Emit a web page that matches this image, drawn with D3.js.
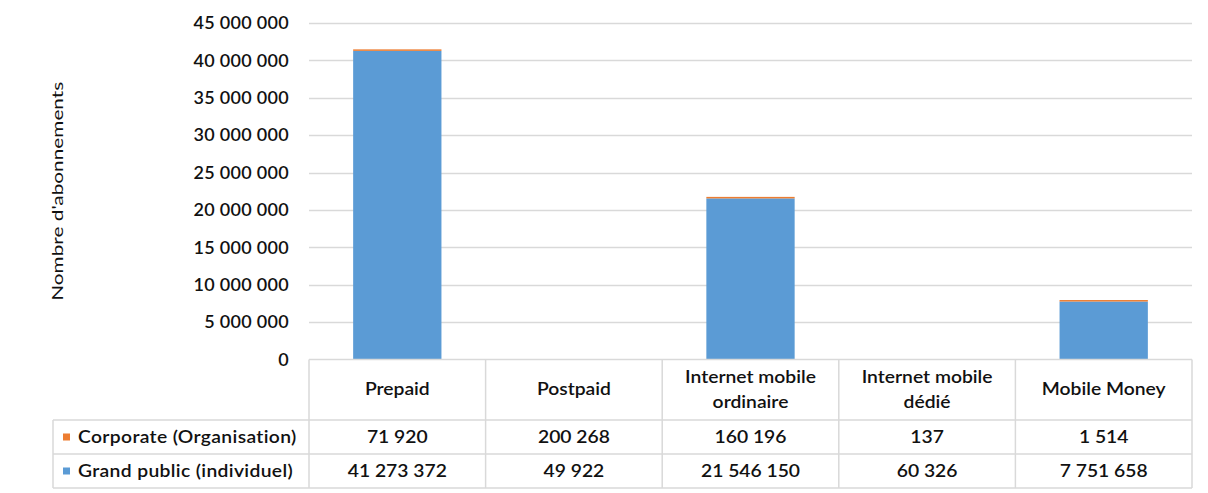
<!DOCTYPE html>
<html lang="fr">
<head>
<meta charset="UTF-8">
<title>Nombre d'abonnements</title>
<script src="https://d3js.org/d3.v7.min.js"></script>
<style>
  body { margin: 0; background: #fff; }
  svg text { font-family: Lato, "Liberation Sans", Arial, sans-serif; fill: #111; font-weight: 600; }
</style>
</head>
<body>
<div id="chart"></div>
<script>
// data
const categories = ["Prepaid", "Postpaid", "Internet mobile ordinaire", "Internet mobile dédié", "Mobile Money"];
const headerLines = [["Prepaid"], ["Postpaid"], ["Internet mobile", "ordinaire"], ["Internet mobile", "dédié"], ["Mobile Money"]];
const corporate = [71920, 200268, 160196, 137, 1514];
const grandPublic = [41273372, 49922, 21546150, 60326, 7751658];
const yTicks = [0, 5e6, 10e6, 15e6, 20e6, 25e6, 30e6, 35e6, 40e6, 45e6];
const seriesNames = ["Corporate (Organisation)", "Grand public (individuel)"];
const colors = { corp: "#ed7d31", gp: "#5b9bd5" };

const W = 1208, H = 493;
const plot = { left: 309, right: 1192, top: 23, bottom: 359.5 };
const rows = { header: 420, r1: 454, r2: 488, labelLeft: 53 };
const stretch = 1.17; // the source text is drawn a bit wide

const fr = d3.formatLocale({ decimal: ",", thousands: "\u00a0", grouping: [3], currency: ["", " €"] });
const fmt = fr.format(",d");

const svg = d3.select("#chart").append("svg")
  .attr("width", W).attr("height", H);

const x = d3.scaleBand().domain(categories).range([plot.left, plot.right]).padding(0);
const y = d3.scaleLinear().domain([0, 45e6]).range([plot.bottom, plot.top]);

// gridlines
svg.append("g").selectAll("line")
  .data(yTicks.filter(d => d > 0))
  .join("line")
  .attr("x1", plot.left).attr("x2", plot.right)
  .attr("y1", d => Math.round(y(d)) + 0.5).attr("y2", d => Math.round(y(d)) + 0.5)
  .attr("stroke", "#d9d9d9").attr("stroke-width", 1.3);

// y axis labels
const yAxis = d3.axisLeft(y).tickValues(yTicks).tickFormat(d => fmt(d)).tickSize(0).tickPadding(20);
const yg = svg.append("g").attr("transform", `translate(${plot.left},0)`).call(yAxis);
yg.select(".domain").remove();
yg.selectAll("text").style("font-size", "18px").style("letter-spacing", "0.3px")
  .attr("fill", "#111").style("font-family", "Lato, \"Liberation Sans\", Arial, sans-serif");

// y title
svg.append("text")
  .attr("transform", `translate(63,${(plot.top + plot.bottom) / 2}) rotate(-90) scale(1.3,1)`)
  .attr("text-anchor", "middle")
  .style("font-size", "16px").style("font-weight", "normal")
  .text("Nombre d'abonnements");

// stacked bars
const data = categories.map((c, i) => ({ cat: c, gp: grandPublic[i], corp: corporate[i] }));
const bw = x.bandwidth() * 0.5;
const bars = svg.append("g");
bars.selectAll("rect.gp").data(data).join("rect").attr("class", "gp")
  .attr("x", d => x(d.cat) + (x.bandwidth() - bw) / 2)
  .attr("width", bw)
  .attr("y", d => y(d.gp))
  .attr("height", d => y(0) - y(d.gp))
  .attr("fill", colors.gp);
// thin orange cap; only really visible on the tall bars
bars.selectAll("rect.corp").data(data.filter(d => d.gp > 1e6)).join("rect").attr("class", "corp")
  .attr("x", d => x(d.cat) + (x.bandwidth() - bw) / 2)
  .attr("width", bw)
  .attr("y", d => Math.min(y(d.gp + d.corp), y(d.gp) - 1.5))
  .attr("height", d => Math.max(1.5, y(d.gp) - y(d.gp + d.corp)))
  .attr("fill", colors.corp);

// data table
const grid = svg.append("g").attr("stroke", "#d9d9d9").attr("stroke-width", 1.5);
grid.append("line").attr("x1", plot.left).attr("x2", plot.right).attr("y1", plot.bottom).attr("y2", plot.bottom);
[rows.header, rows.r1, rows.r2].forEach(yy => {
  grid.append("line").attr("x1", rows.labelLeft).attr("x2", plot.right).attr("y1", yy).attr("y2", yy);
});
categories.forEach(c => {
  grid.append("line").attr("x1", x(c)).attr("x2", x(c)).attr("y1", plot.bottom).attr("y2", rows.r2);
});
grid.append("line").attr("x1", plot.right).attr("x2", plot.right).attr("y1", plot.bottom).attr("y2", rows.r2);
grid.append("line").attr("x1", rows.labelLeft).attr("x2", rows.labelLeft).attr("y1", rows.header).attr("y2", rows.r2);

const tbl = svg.append("g").style("font-size", "16.5px");
function cellText(tx, ty, t, anchor, spacing) {
  tbl.append("text")
    .attr("transform", `translate(${tx},${ty}) scale(${stretch},1)`)
    .attr("text-anchor", anchor)
    .style("letter-spacing", spacing || null)
    .text(t);
}
// header
data.forEach((d, i) => {
  const lines = headerLines[i];
  const cx = x(d.cat) + x.bandwidth() / 2;
  const cy = (plot.bottom + rows.header) / 2;
  const lh = 25;
  lines.forEach((t, k) => cellText(cx, cy + (k - (lines.length - 1) / 2) * lh + 5.5, t, "middle"));
});
// values
const rowDefs = [
  { name: seriesNames[0], vals: corporate, color: colors.corp, top: rows.header, bot: rows.r1 },
  { name: seriesNames[1], vals: grandPublic, color: colors.gp, top: rows.r1, bot: rows.r2 }
];
rowDefs.forEach(r => {
  const cy = (r.top + r.bot) / 2;
  r.vals.forEach((v, i) => cellText(x(categories[i]) + x.bandwidth() / 2, cy + 6, fmt(v), "middle"));
  svg.append("rect").attr("x", 63).attr("y", cy - 3.5).attr("width", 7).attr("height", 7).attr("fill", r.color);
  cellText(78, cy + 6, r.name, "start", "0.3px");
});
</script>
</body>
</html>
